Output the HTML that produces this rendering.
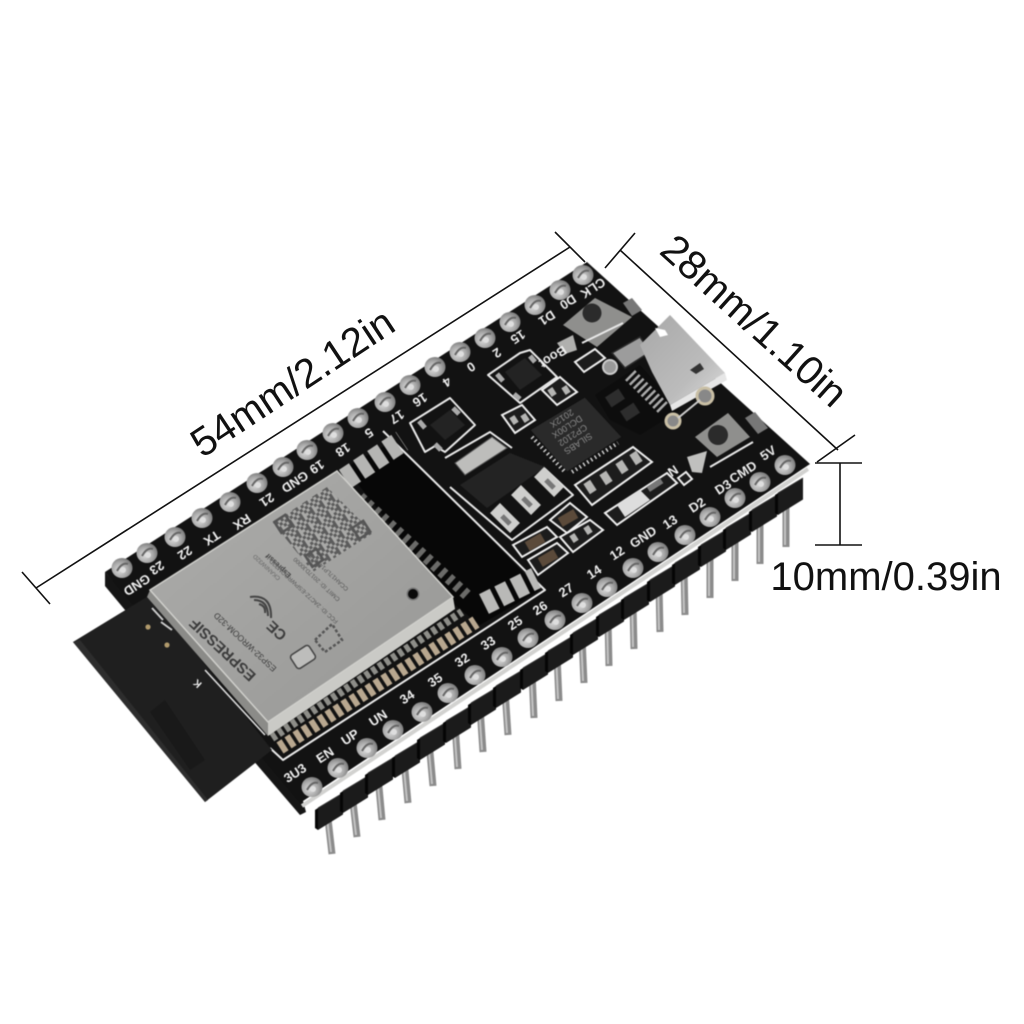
<!DOCTYPE html>
<html><head><meta charset="utf-8"><title>Board dimensions</title>
<style>
html,body{margin:0;padding:0;background:#fff}
svg{display:block}
text{font-family:"Liberation Sans",sans-serif}
.dim{font-size:40.5px;fill:#111;text-anchor:middle}
.s text{font-size:13px;font-weight:bold;fill:#eee;text-anchor:middle;dominant-baseline:central}
.silk{fill:none;stroke:#e8e8e8;stroke-width:2;stroke-linejoin:round}
.soft{filter:blur(.55px)}
</style></head><body>
<svg width="1024" height="1024" viewBox="0 0 1024 1024" xmlns="http://www.w3.org/2000/svg">
<defs>
<linearGradient id="sh" x1="0" y1="0" x2="1" y2="1"><stop offset="0" stop-color="#adadab"/><stop offset="1" stop-color="#979795"/></linearGradient>
<linearGradient id="usb" x1="0" y1="0" x2="1" y2="1"><stop offset="0" stop-color="#a8a8a8"/><stop offset=".65" stop-color="#bcbcbc"/><stop offset="1" stop-color="#dedede"/></linearGradient>
<radialGradient id="padg" cx=".4" cy=".6" r=".7"><stop offset="0" stop-color="#dcdcdc"/><stop offset=".55" stop-color="#a8a8a8"/><stop offset="1" stop-color="#6c6c6c"/></radialGradient>
<g id="p"><ellipse rx="10.5" ry="10" fill="url(#padg)"/><path d="M-5 3Q0 -6 6 -4" stroke="#666" stroke-width="2" fill="none"/><circle r="3" cx="1" cy="2" fill="#dedede"/></g>
<g id="b"><path d="M0 0L25 -15.5V-37L0 -22Z" fill="#1b1b1b"/><path d="M0 0V-22L-3 -20V-2Z" fill="#050505"/><path d="M0 -22L25 -37" stroke="#333" stroke-width="1"/></g>
<pattern id="qr" width="12" height="12" patternUnits="userSpaceOnUse" patternTransform="rotate(-33)">
<rect width="12" height="12" fill="#a9a9a7"/>
<path d="M0 0h3v3H0zM6 0h3v3H6zM3 3h3v3H3zM9 3h3v3H9zM0 6h3v3H0zM3 9h6v3H3zM6 6h3v3H6z" fill="#5c5c5c"/>
</pattern>
</defs>

<!-- dimension lines -->
<g stroke="#111" stroke-width="1.6" fill="none">
<path d="M36 588L570 247M22 572L50 604M555 232L585 262"/>
<path d="M620 250L838 450M605 268L635 233M817 462L855 435"/>
<path d="M840 463V545M815 463H862M815 545H862"/>
</g>
<text class="dim" transform="translate(300 394) rotate(-33.5)">54mm/2.12in</text>
<text class="dim" transform="translate(745 331) rotate(42)">28mm/1.10in</text>
<text class="dim" x="886" y="590" style="font-size:40px">10mm/0.39in</text>

<g class="soft">
<!-- pins -->
<path d="M327 810L332 854M352 793L357 837M378 776L382 820M404 759L408 803M429 741L433 786M455 724L458 769M480 707L483 752M505 690L508 735M532 672L534 718M557 655L559 701M582 637L584 683M608 620L609 666M633 603L634 649M659 585L660 632M684 568L685 615M710 550L710 598M735 533L735 581M760 516L760 564M786 498L786 547" stroke="#8b8b8b" stroke-width="7" fill="none"/>
<path d="M326 810L331 852M351 793L356 835M377 776L381 818M403 759L407 801M428 741L432 784M454 724L457 767M479 707L482 750M504 690L507 733M531 672L533 716M556 655L558 699M581 637L583 681M607 620L608 664M632 603L633 647M658 585L659 630M683 568L684 613M709 550L709 596M734 533L734 579M759 516L759 562M785 498L785 545" stroke="#c4c4c4" stroke-width="2" fill="none"/>

<!-- board side -->
<path d="M105 572L105 586L150 640L300 815L306 812L300 790Z" fill="#151515"/>
<!-- header blocks -->
<use href="#b" x="318" y="830"/><use href="#b" x="343" y="813"/><use href="#b" x="368" y="795"/><use href="#b" x="395" y="778"/><use href="#b" x="420" y="760"/><use href="#b" x="446" y="743"/><use href="#b" x="471" y="725"/><use href="#b" x="496" y="708"/><use href="#b" x="523" y="690"/><use href="#b" x="548" y="673"/><use href="#b" x="573" y="655"/><use href="#b" x="599" y="637"/><use href="#b" x="624" y="620"/><use href="#b" x="650" y="602"/><use href="#b" x="675" y="585"/><use href="#b" x="701" y="567"/><use href="#b" x="726" y="550"/><use href="#b" x="752" y="532"/><use href="#b" x="778" y="515"/>
<path d="M302 806L808 469" stroke="#d2d2d0" stroke-width="4"/>

<!-- board top -->
<polygon points="105,572 587,262 810,464 300,803" fill="#121212"/>

<!-- black RF area + silk outline -->
<polygon points="345,468 395,440 540,590 480,625 455,605" fill="#070707"/>
<path class="silk" d="M383 431L545 590L283 760L270 748"/>
<path d="M345 479L402 441" stroke="#b5b5b3" stroke-width="22" stroke-dasharray="12 5" fill="none"/>
<path d="M484 604L536 578" stroke="#b9b9b7" stroke-width="22" stroke-dasharray="12 5" fill="none"/>
<path d="M360 497L468 596" stroke="#6b6b69" stroke-width="11" stroke-dasharray="5 5" fill="none"/>

<!-- castellations -->
<path d="M280 748L476 622" stroke="#b8a78f" stroke-width="13" stroke-dasharray="6 3.5" fill="none"/>
<path d="M272 738L462 612" stroke="#8d8d88" stroke-width="8" stroke-dasharray="5 3" fill="none"/>

<!-- antenna -->
<polygon points="73,642 150,595 272,750 205,802" fill="#1f1f1f"/>
<polygon points="165,700 205,760 190,770 150,712" fill="#191919"/>
<polygon points="73,642 80,640 208,800 205,802" fill="#2d2d2d"/>
<circle cx="148" cy="627" r="2.6" fill="#b19a6c"/><circle cx="167" cy="645" r="2.6" fill="#b19a6c"/>
<path d="M152 608L163 620M161 622L172 630" stroke="#ccc" stroke-width="2"/>
<path d="M205 670L265 735" stroke="#ddd" stroke-width="1.6"/>
<g class="s"><text transform="translate(198 683) rotate(223)" style="font-size:10px">K</text></g>

<!-- shield -->
<polygon points="147,597 150,590 268,722 268,736" fill="#8b8b88"/>
<polygon points="268,722 453,597 455,609 268,736" fill="#cacac6"/>
<polygon points="150,590 337,471 453,597 268,722" fill="url(#sh)" stroke="#cfcfcb" stroke-width="1.5"/>
<polygon points="327,487 373,533 313,572 273,523" fill="url(#qr)"/>
<g fill="none" stroke="#555" stroke-width="2.5"><rect x="-7" y="-7" width="13" height="13" transform="translate(284 524) rotate(-33)"/><rect x="-7" y="-7" width="13" height="13" transform="translate(362 530) rotate(-33)"/><rect x="-7" y="-7" width="13" height="13" transform="translate(315 558) rotate(-33)"/></g>
<circle cx="413" cy="594" r="6.5" fill="#777"/><circle cx="413" cy="594" r="5" fill="#0a0a0a"/>
<g fill="#3c3c3c" text-anchor="middle">
<text transform="translate(226 646) rotate(223)" style="font-size:15px;font-weight:bold">ESPRESSIF</text>
<text transform="translate(247 640) rotate(223)" style="font-size:8.5px">ESP32-WROOM-32D</text>
<text transform="translate(280 627) rotate(223)" style="font-size:15px;font-weight:bold">CE</text>
<text transform="translate(268 566) rotate(223)" style="font-size:6px;fill:#666">CKANIW32D</text>
<text transform="translate(280 564) rotate(223)" style="font-size:7px;font-weight:bold">Espressif</text>
<text transform="translate(305 590) rotate(223)" style="font-size:6px;fill:#555">FCC ID: 2AC7Z-ESPWROOM32D</text>
<text transform="translate(318 578) rotate(223)" style="font-size:6px;fill:#555">CMIIT ID: 2017DJ0000</text>
<text transform="translate(330 571) rotate(223)" style="font-size:6px;fill:#555">CCAH17LP1440T5</text>
</g>
<g fill="none" stroke="#444" stroke-width="2"><path d="M259 604Q266 606 265 613M254 600Q268 600 268 616M250 597Q272 594 271 618"/></g>
<rect x="-11" y="-8" width="22" height="16" rx="3" transform="translate(303 657) rotate(-33)" fill="#bdbdbb" stroke="#444" stroke-width="1.5"/>
<path d="M315 640L332 624L342 640L325 652Z" fill="none" stroke="#555" stroke-width="2.5" stroke-dasharray="3 2"/>

<!-- regulator -->
<path class="silk" d="M445 458L490 432L512 448M450 487L512 540L573 495L543 467"/>
<polygon points="455,463 492,437 507,448 465,475" fill="#bdbdbb" stroke="#555"/>
<polygon points="460,485 510,453 545,467 487,508" fill="#232323"/>
<path d="M495 508L515 528M516 490L536 510M539 472L559 492" stroke="#cfcfcd" stroke-width="14"/>
<path d="M502 516L510 524M523 498L531 506M546 480L554 488" stroke="#777" stroke-width="5"/>

<!-- SOT transistors -->
<path class="silk" d="M410 423L450 398L475 425L445 452L435 446L425 452Z"/>
<polygon points="430,425 450,410 465,425 445,440" fill="#232323"/>
<path d="M419 421L425 428M435 444L441 450M453 408L459 414" stroke="#aaa" stroke-width="5"/>
<path class="silk" d="M488 375L520 353L530 350L557 377L520 403Z"/>
<polygon points="505,372 525,358 542,375 520,390" fill="#232323"/>
<path d="M497 374L503 381M514 394L520 399M530 356L535 362" stroke="#aaa" stroke-width="5"/>

<!-- small parts -->
<g stroke="#eee" stroke-width="2" fill="#1c1c1c">
<polygon points="542,390 560,377 577,392 557,405"/>
<polygon points="502,415 522,405 535,420 515,433"/>
<polygon points="575,485 633,447 652,462 592,505"/>
<polygon points="513,545 547,527 557,537 522,557"/>
<polygon points="528,560 557,543 568,553 538,575"/>
<polygon points="550,520 570,503 587,517 567,533"/>
<polygon points="560,537 590,520 603,530 573,552"/>
<polygon points="605,513 667,473 677,483 617,525"/>
<polygon points="575,362 595,349 605,358 584,372"/>
<polygon points="678,478 686,472 692,479 684,485"/>
</g>
<g fill="#5b4a3a">
<rect x="-9" y="-5" width="18" height="10" transform="translate(535 542) rotate(-30)"/>
<rect x="-9" y="-5" width="18" height="10" transform="translate(548 558) rotate(-30)"/>
<rect x="-9" y="-5" width="18" height="10" transform="translate(568 518) rotate(-30)"/>
</g>
<g fill="#b5b5b3">
<rect x="-3" y="-4" width="6" height="8" transform="translate(552 392) rotate(-33)"/><rect x="-3" y="-4" width="6" height="8" transform="translate(566 390) rotate(-33)"/>
<rect x="-3" y="-4" width="6" height="8" transform="translate(514 420) rotate(-33)"/><rect x="-3" y="-4" width="6" height="8" transform="translate(525 418) rotate(-33)"/>
<rect x="-3" y="-4" width="6" height="8" transform="translate(574 538) rotate(-33)"/><rect x="-3" y="-4" width="6" height="8" transform="translate(588 530) rotate(-33)"/>
<rect x="-4" y="-6" width="8" height="12" transform="translate(590 487) rotate(-33)"/><rect x="-4" y="-6" width="8" height="12" transform="translate(606 478) rotate(-33)"/><rect x="-4" y="-6" width="8" height="12" transform="translate(622 467) rotate(-33)"/><rect x="-4" y="-6" width="8" height="12" transform="translate(636 458) rotate(-33)"/>
</g>
<polygon points="617,505 640,490 650,500 625,517" fill="#ddd"/>
<rect x="-8" y="-3" width="16" height="6" transform="translate(655 485) rotate(-33)" fill="#777"/>
<g class="s"><text transform="translate(673 471) rotate(147)" style="font-size:13px">N</text></g>

<!-- CP2102 -->
<polygon points="530,430 585,397 622,437 567,472" fill="#2a2a2a" stroke="#111"/>
<path d="M532 437L565 472M572 472L618 443" stroke="#ccc" stroke-width="4" stroke-dasharray="1.5 3" fill="none"/>
<g transform="translate(570 431) rotate(147)" text-anchor="middle" fill="#8c8c8c" style="font-size:9px">
<text y="-12">SILABS</text><text y="-2">CP2102</text><text y="8">DCL00X</text><text y="18">2012X</text>
</g>

<!-- components around USB -->
<polygon points="595,395 640,365 680,410 640,435 610,420" fill="#0d0d0d"/>
<g fill="#2d2d2d"><rect x="-8" y="-6" width="16" height="12" transform="translate(615 398) rotate(-33)"/><rect x="-8" y="-6" width="16" height="12" transform="translate(630 412) rotate(-33)"/></g>
<path d="M630 375L665 410" stroke="#aaa" stroke-width="14" stroke-dasharray="2.5 3" fill="none"/>

<!-- USB -->
<polygon points="612,353 640,337 650,352 625,368" fill="#9c9c9c" stroke="#2a2a2a" stroke-width="1.5"/>
<polygon points="640,345 670,315 725,373 670,405 652,372" fill="url(#usb)"/>
<path d="M670 405L725 373L727 380L672 411Z" fill="#e6e6e6"/>
<path d="M690 370L700 363L704 369L696 374Z" fill="#333"/>
<path d="M655 328L665 330L668 335L660 337Z" fill="#fff"/>
<circle cx="610" cy="367" r="7" fill="#999" stroke="#ccc" stroke-width="2"/>
<circle cx="705" cy="396" r="8" fill="#888" stroke="#c9bfa5" stroke-width="3"/>
<circle cx="673" cy="421" r="7" fill="#888" stroke="#c9bfa5" stroke-width="3"/>
<path d="M678 418L700 400" stroke="#ccc" stroke-width="2"/>

<!-- buttons -->
<polygon points="563,325 595,298 632,317 597,347" fill="#8f8f8d"/>
<circle cx="592" cy="313" r="9.5" fill="#2b2b2b"/>
<path class="silk" d="M582 343L623 323"/>
<polygon points="557,343 573,335 577,350 565,354" fill="#b0b0ae"/>
<polygon points="623,303 632,298 642,310 632,316" fill="#777"/>
<polygon points="695,437 728,413 750,437 717,457" fill="#8f8f8d"/>
<circle cx="718" cy="435" r="10" fill="#2b2b2b"/>
<path class="silk" d="M710 467L753 442"/>
<polygon points="687,457 707,451 702,473 692,472" fill="#c0c0be"/>
<polygon points="745,418 755,412 768,428 758,434" fill="#777"/>

<!-- pads -->
<use href="#p" x="122" y="568"/><use href="#p" x="147" y="553"/><use href="#p" x="175" y="537"/><use href="#p" x="202" y="518"/><use href="#p" x="230" y="502"/><use href="#p" x="257" y="483"/><use href="#p" x="283" y="467"/><use href="#p" x="307" y="450"/><use href="#p" x="333" y="433"/><use href="#p" x="358" y="418"/><use href="#p" x="385" y="402"/><use href="#p" x="410" y="385"/><use href="#p" x="435" y="367"/><use href="#p" x="460" y="352"/><use href="#p" x="485" y="338"/><use href="#p" x="510" y="322"/><use href="#p" x="535" y="305"/><use href="#p" x="560" y="290"/><use href="#p" x="583" y="275"/>
<use href="#p" x="312" y="787"/><use href="#p" x="338" y="768"/><use href="#p" x="367" y="748"/><use href="#p" x="393" y="730"/><use href="#p" x="422" y="712"/><use href="#p" x="448" y="693"/><use href="#p" x="475" y="675"/><use href="#p" x="502" y="657"/><use href="#p" x="528" y="638"/><use href="#p" x="555" y="620"/><use href="#p" x="582" y="603"/><use href="#p" x="607" y="587"/><use href="#p" x="633" y="568"/><use href="#p" x="658" y="552"/><use href="#p" x="685" y="535"/><use href="#p" x="710" y="517"/><use href="#p" x="735" y="498"/><use href="#p" x="760" y="482"/><use href="#p" x="785" y="465"/>

<!-- labels -->
<g class="s">
<text transform="translate(137 585) rotate(147)">GND</text>
<text transform="translate(157 568) rotate(147)">23</text>
<text transform="translate(185 553) rotate(147)">22</text>
<text transform="translate(212 538) rotate(147)">TX</text>
<text transform="translate(242 522) rotate(147)">RX</text>
<text transform="translate(267 500) rotate(147)">21</text>
<text transform="translate(295 482) rotate(147)">GND</text>
<text transform="translate(317 467) rotate(147)">19</text>
<text transform="translate(343 450) rotate(147)">18</text>
<text transform="translate(369 433) rotate(147)">5</text>
<text transform="translate(397 417) rotate(147)">17</text>
<text transform="translate(420 400) rotate(147)">16</text>
<text transform="translate(447 382) rotate(147)">4</text>
<text transform="translate(471 367) rotate(147)">0</text>
<text transform="translate(497 353) rotate(147)">2</text>
<text transform="translate(518 337) rotate(147)">15</text>
<text transform="translate(547 318) rotate(147)">D1</text>
<text transform="translate(568 302) rotate(147)">D0</text>
<text transform="translate(593 288) rotate(147)">CLK</text>
<text transform="translate(553 357) rotate(147)">Boot</text>
<text transform="translate(295 773) rotate(-33)">3U3</text>
<text transform="translate(325 755) rotate(-33)">EN</text>
<text transform="translate(350 737) rotate(-33)">UP</text>
<text transform="translate(378 718) rotate(-33)">UN</text>
<text transform="translate(407 697) rotate(-33)">34</text>
<text transform="translate(435 680) rotate(-33)">35</text>
<text transform="translate(462 660) rotate(-33)">32</text>
<text transform="translate(488 643) rotate(-33)">33</text>
<text transform="translate(515 623) rotate(-33)">25</text>
<text transform="translate(540 608) rotate(-33)">26</text>
<text transform="translate(566 590) rotate(-33)">27</text>
<text transform="translate(594 572) rotate(-33)">14</text>
<text transform="translate(617 553) rotate(-33)">12</text>
<text transform="translate(643 537) rotate(-33)">GND</text>
<text transform="translate(670 522) rotate(-33)">13</text>
<text transform="translate(697 505) rotate(-33)">D2</text>
<text transform="translate(723 487) rotate(-33)">D3</text>
<text transform="translate(743 472) rotate(-33)">CMD</text>
<text transform="translate(768 453) rotate(-33)">5V</text>
</g>
</g>
</svg>
</body></html>
